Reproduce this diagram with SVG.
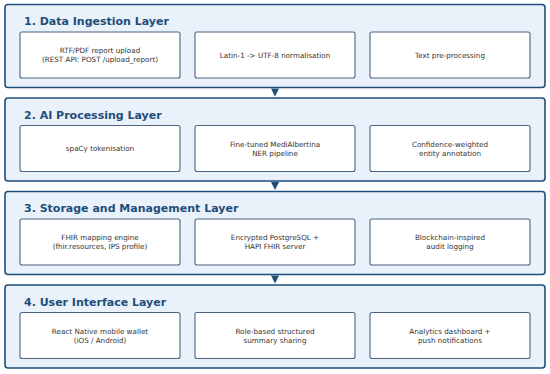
<svg xmlns="http://www.w3.org/2000/svg" width="550" height="374" viewBox="0 0 550 374">
<style>
.panel{fill:#e9f1fb;stroke:#1f4e79;stroke-width:1.6}
.box{fill:#ffffff;stroke:#4f6480;stroke-width:1.1}
.title{font-family:"DejaVu Sans",sans-serif;font-weight:bold;font-size:11px;fill:#1f4e79}
.lbl{font-family:"DejaVu Sans",sans-serif;font-size:7.2px;fill:#333333;text-anchor:middle}
.arr{fill:#1f4e79}
</style>
<rect width="550" height="374" fill="#ffffff"/>
<g id="layer1">
<rect class="panel" x="5" y="4.5" width="540" height="83" rx="3"/>
<text class="title" x="24" y="25">1. Data Ingestion Layer</text>
</g>
<g id="n1a"><rect class="box" x="20" y="32" width="160" height="46" rx="2"/><text class="lbl" x="100" y="53">RTF/PDF report upload</text><text class="lbl" x="100" y="62">(REST API: POST /upload_report)</text></g>
<g id="n1b"><rect class="box" x="195" y="32" width="160" height="46" rx="2"/><text class="lbl" x="275" y="57.5">Latin-1 -&gt; UTF-8 normalisation</text></g>
<g id="n1c"><rect class="box" x="370" y="32" width="160" height="46" rx="2"/><text class="lbl" x="450" y="57.5">Text pre-processing</text></g>

<g id="layer2">
<rect class="panel" x="5" y="98" width="540" height="83" rx="3"/>
<text class="title" x="24" y="118.5">2. AI Processing Layer</text>
</g>
<g id="n2a"><rect class="box" x="20" y="125.5" width="160" height="46" rx="2"/><text class="lbl" x="100" y="151">spaCy tokenisation</text></g>
<g id="n2b"><rect class="box" x="195" y="125.5" width="160" height="46" rx="2"/><text class="lbl" x="275" y="146.5">Fine-tuned MediAlbertina</text><text class="lbl" x="275" y="155.5">NER pipeline</text></g>
<g id="n2c"><rect class="box" x="370" y="125.5" width="160" height="46" rx="2"/><text class="lbl" x="450" y="146.5">Confidence-weighted</text><text class="lbl" x="450" y="155.5">entity annotation</text></g>

<g id="layer3">
<rect class="panel" x="5" y="191.5" width="540" height="83" rx="3"/>
<text class="title" x="24" y="212">3. Storage and Management Layer</text>
</g>
<g id="n3a"><rect class="box" x="20" y="219" width="160" height="46" rx="2"/><text class="lbl" x="100" y="240">FHIR mapping engine</text><text class="lbl" x="100" y="249">(fhir.resources, IPS profile)</text></g>
<g id="n3b"><rect class="box" x="195" y="219" width="160" height="46" rx="2"/><text class="lbl" x="275" y="240">Encrypted PostgreSQL +</text><text class="lbl" x="275" y="249">HAPI FHIR server</text></g>
<g id="n3c"><rect class="box" x="370" y="219" width="160" height="46" rx="2"/><text class="lbl" x="450" y="240">Blockchain-inspired</text><text class="lbl" x="450" y="249">audit logging</text></g>

<g id="layer4">
<rect class="panel" x="5" y="285" width="540" height="83" rx="3"/>
<text class="title" x="24" y="305.5">4. User Interface Layer</text>
</g>
<g id="n4a"><rect class="box" x="20" y="312.5" width="160" height="46" rx="2"/><text class="lbl" x="100" y="333.5">React Native mobile wallet</text><text class="lbl" x="100" y="342.5">(iOS / Android)</text></g>
<g id="n4b"><rect class="box" x="195" y="312.5" width="160" height="46" rx="2"/><text class="lbl" x="275" y="333.5">Role-based structured</text><text class="lbl" x="275" y="342.5">summary sharing</text></g>
<g id="n4c"><rect class="box" x="370" y="312.5" width="160" height="46" rx="2"/><text class="lbl" x="450" y="333.5">Analytics dashboard +</text><text class="lbl" x="450" y="342.5">push notifications</text></g>

<g id="connectors">
<polygon class="arr" points="271,88.5 279,88.5 275,96.5"/>
<polygon class="arr" points="271,182 279,182 275,190"/>
<polygon class="arr" points="271,275.5 279,275.5 275,283.5"/>
</g>
</svg>
